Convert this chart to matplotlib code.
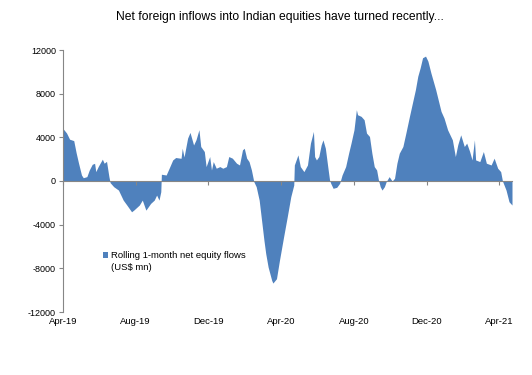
import matplotlib
matplotlib.use("Agg")
import matplotlib.pyplot as plt
import matplotlib.transforms as mtransforms
from matplotlib.patches import Patch
import pandas as pd
import numpy as np

plt.rcParams['font.family'] = ['Liberation Sans', 'DejaVu Sans']

title = "Net foreign inflows into Indian equities have turned recently..."
series_label_1 = "Rolling 1-month net equity flows"
series_label_2 = "(US$ mn)"

dates = [
    "2019-04-01", "2019-04-07", "2019-04-12", "2019-04-19", "2019-04-23", "2019-04-27",
    "2019-05-02", "2019-05-05", "2019-05-11", "2019-05-15", "2019-05-20", "2019-05-24",
    "2019-05-26", "2019-05-30", "2019-06-06", "2019-06-09", "2019-06-13", "2019-06-17",
    "2019-06-19", "2019-06-25", "2019-07-03", "2019-07-11", "2019-07-17", "2019-07-25",
    "2019-07-29", "2019-08-07", "2019-08-12", "2019-08-18", "2019-08-22", "2019-08-26",
    "2019-09-01", "2019-09-05", "2019-09-09", "2019-09-12", "2019-09-13", "2019-09-21",
    "2019-09-26", "2019-10-02", "2019-10-07", "2019-10-16", "2019-10-18", "2019-10-21",
    "2019-10-27", "2019-10-31", "2019-11-06", "2019-11-10", "2019-11-15", "2019-11-18",
    "2019-11-24", "2019-11-27", "2019-12-03", "2019-12-06", "2019-12-09", "2019-12-14",
    "2019-12-20", "2019-12-25", "2019-12-31", "2020-01-04", "2020-01-10", "2020-01-17",
    "2020-01-22", "2020-01-27", "2020-01-30", "2020-02-03", "2020-02-07", "2020-02-11",
    "2020-02-15", "2020-02-19", "2020-02-24", "2020-02-28", "2020-03-03", "2020-03-06",
    "2020-03-10", "2020-03-16", "2020-03-18", "2020-03-24", "2020-03-29", "2020-04-05",
    "2020-04-11", "2020-04-17", "2020-04-22", "2020-04-23", "2020-04-29", "2020-05-03",
    "2020-05-09", "2020-05-15", "2020-05-20", "2020-05-25", "2020-05-27", "2020-05-30",
    "2020-06-03", "2020-06-07", "2020-06-10", "2020-06-14", "2020-06-18", "2020-06-21",
    "2020-06-23", "2020-06-27", "2020-07-03", "2020-07-08", "2020-07-12", "2020-07-18",
    "2020-07-23", "2020-07-27", "2020-08-01", "2020-08-05", "2020-08-07", "2020-08-13",
    "2020-08-18", "2020-08-22", "2020-08-27", "2020-08-31", "2020-09-04", "2020-09-08",
    "2020-09-11", "2020-09-14", "2020-09-17", "2020-09-21", "2020-09-24", "2020-09-29",
    "2020-10-04", "2020-10-08", "2020-10-12", "2020-10-16", "2020-10-22", "2020-10-27",
    "2020-11-02", "2020-11-07", "2020-11-12", "2020-11-16", "2020-11-20", "2020-11-24",
    "2020-11-29", "2020-12-03", "2020-12-08", "2020-12-16", "2020-12-25", "2020-12-30",
    "2021-01-05", "2021-01-13", "2021-01-18", "2021-01-22", "2021-01-27", "2021-02-02",
    "2021-02-06", "2021-02-11", "2021-02-15", "2021-02-19", "2021-02-21", "2021-02-28",
    "2021-03-06", "2021-03-11", "2021-03-19", "2021-03-24", "2021-03-30", "2021-04-04",
    "2021-04-07", "2021-04-13", "2021-04-18", "2021-04-23",
]

flows = [
    4800, 4390, 3830, 3700, 2600, 1650,
    550, 300, 400, 1000, 1530, 1620,
    860, 1320, 2000, 1630, 1800, 400,
    -150, -520, -830, -1750, -2200, -2820,
    -2650, -2200, -1750, -2670, -2360, -2050,
    -1750, -1290, -1750, -980, 620, 550,
    1170, 1930, 2150, 2080, 3000, 2200,
    3930, 4450, 3300, 3770, 4700, 3160,
    2700, 1320, 2240, 1010, 1780, 1170,
    1320, 1170, 1320, 2240, 2090, 1630,
    1470, 2850, 3000, 2090, 1780, 1010,
    -60, -520, -1750, -3590, -5430, -6650,
    -7880, -9100, -9350, -8950, -7270, -5100,
    -3300, -1440, -370, 1470, 2390, 1320,
    860, 1470, 3470, 4540, 2240, 1930,
    2240, 3310, 3770, 3000, 1320, 100,
    -210, -670, -580, -210, 550, 1320,
    2550, 3460, 4690, 6530, 6070, 5920,
    5610, 4390, 4080, 2550, 1320, 1010,
    100, -520, -830, -520, -60, 400,
    0, 250, 1630, 2550, 3160, 4390,
    5920, 7150, 8370, 9600, 10370, 11290,
    11440, 10980, 9900, 8370, 6380, 5770,
    4690, 3770, 2240, 3310, 4230, 3160,
    3470, 2700, 1930, 3770, 1930, 1780,
    2700, 1630, 1470, 2090, 1170, 860,
    0, -830, -1900, -2200,
]

x_tick_dates = ["2019-04-01", "2019-08-01", "2019-12-01", "2020-04-01",
                "2020-08-01", "2020-12-01", "2021-04-01"]
x_tick_labels = ["Apr-19", "Aug-19", "Dec-19", "Apr-20", "Aug-20", "Dec-20", "Apr-21"]
y_ticks = [-12000, -8000, -4000, 0, 4000, 8000, 12000]

x = pd.to_datetime(dates)
y = np.array(flows, dtype=float)
xt = pd.to_datetime(x_tick_dates)

blue = "#4F81BD"
gray = "#868686"

fig = plt.figure(figsize=(5.32, 3.75), dpi=100)
ax = fig.add_axes([63/532, 1-312/375, (512-63)/532, (312-50)/375])

ax.fill_between(x, 0, y, color=blue, linewidth=0, interpolate=True)

ax.set_xlim(x[0], x[-1])
ax.set_ylim(-12000, 12000)
ax.set_yticks(y_ticks)
ax.set_yticklabels([str(v) for v in y_ticks], fontsize=6.5)

for s in ["top", "right"]:
    ax.spines[s].set_visible(False)
ax.spines["left"].set_color(gray)
ax.spines["bottom"].set_color(gray)
ax.spines["bottom"].set_position(("data", 0))
ax.spines["left"].set_linewidth(0.8)
ax.spines["bottom"].set_linewidth(0.8)
ax.set_axisbelow(False)

ax.set_xticks(xt)
ax.tick_params(axis="x", direction="out", length=3, color=gray, labelbottom=False)
ax.tick_params(axis="y", direction="out", length=3, color=gray, pad=2)

trans = mtransforms.blended_transform_factory(ax.transData, ax.transAxes)
for d, lab in zip(xt, x_tick_labels):
    ax.text(d, -0.018, lab, transform=trans, ha="center", va="top", fontsize=6.8)

handles = [Patch(facecolor=blue, edgecolor="none", label=series_label_1),
           Patch(facecolor="none", edgecolor="none", label=series_label_2)]
ax.legend(handles=handles, loc="upper left", bbox_to_anchor=(0.088, 0.232), frameon=False,
          fontsize=6.8, handlelength=0.55, handleheight=0.55, handletextpad=0.35,
          borderaxespad=0, labelspacing=0.3, borderpad=0)

fig.text(0.527, 1-17/375, title, ha="center", va="center", fontsize=8.7)

fig.savefig("out.png", dpi=100)
